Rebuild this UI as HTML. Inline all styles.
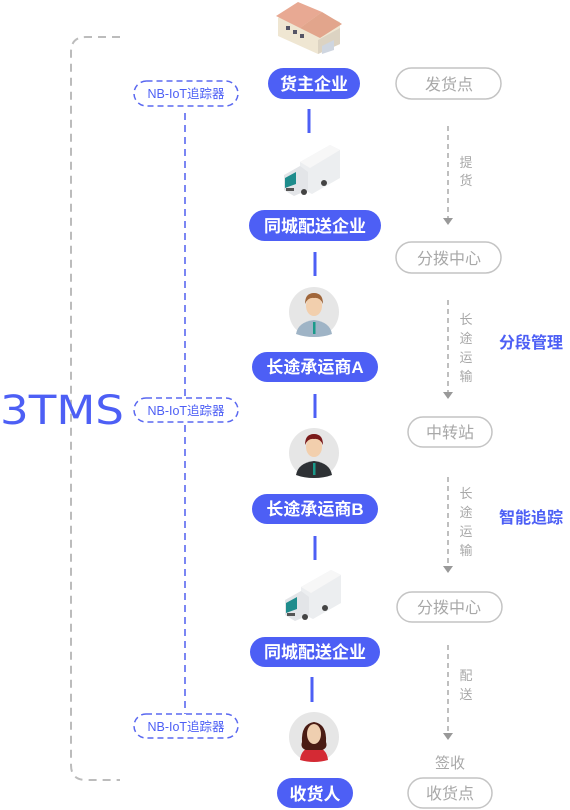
<!DOCTYPE html>
<html><head><meta charset="utf-8"><style>
html,body{margin:0;padding:0;background:#fff;}
svg{display:block;font-family:"Liberation Sans","Noto Sans CJK SC",sans-serif;}
</style></head><body>
<svg width="570" height="810" viewBox="0 0 570 810" xmlns="http://www.w3.org/2000/svg">
<path d="M120 37 H86 Q71 37 71 52 V765 Q71 780 86 780 H120" fill="none" stroke="#bcbcbc" stroke-width="2" stroke-dasharray="8 6"/>
<line x1="185" y1="113" x2="185" y2="714" stroke="#5a68f0" stroke-width="1.6" stroke-dasharray="7 5"/>
<text x="0" y="424" font-size="40" fill="#4d5ff5" textLength="124" lengthAdjust="spacingAndGlyphs" font-family="DejaVu Sans,Liberation Sans,sans-serif">3TMS</text>
<g font-size="12.5" fill="#4d5ff5" text-anchor="middle">
<rect x="134" y="81" width="104" height="25" rx="12.5" fill="#fff" stroke="#5a68f0" stroke-width="1.5" stroke-dasharray="6 4"/>
<text x="186" y="98">NB-IoT追踪器</text>
<rect x="134" y="398" width="104" height="24" rx="12" fill="#fff" stroke="#5a68f0" stroke-width="1.5" stroke-dasharray="6 4"/>
<text x="186" y="415">NB-IoT追踪器</text>
<rect x="134" y="714" width="104" height="24" rx="12" fill="#fff" stroke="#5a68f0" stroke-width="1.5" stroke-dasharray="6 4"/>
<text x="186" y="731">NB-IoT追踪器</text>
</g>
<g stroke="#4d5ff5" stroke-width="3">
<line x1="309" y1="109" x2="309" y2="133"/>
<line x1="315" y1="252" x2="315" y2="276"/>
<line x1="315" y1="394" x2="315" y2="418"/>
<line x1="315" y1="536" x2="315" y2="560"/>
<line x1="312" y1="677" x2="312" y2="702"/>
</g>
<g fill="#4d5ff5">
<rect x="268" y="68" width="92" height="31" rx="15.5"/>
<rect x="249" y="210" width="132" height="31" rx="15.5"/>
<rect x="252" y="352" width="126" height="30" rx="15"/>
<rect x="252" y="494" width="126" height="30" rx="15"/>
<rect x="250" y="637" width="130" height="30" rx="15"/>
<rect x="277" y="778" width="76" height="30" rx="15"/>
</g>
<g fill="#fff" font-size="17" text-anchor="middle" font-weight="bold">
<text x="314" y="90">货主企业</text>
<text x="315" y="232">同城配送企业</text>
<text x="315" y="373">长途承运商A</text>
<text x="315" y="515">长途承运商B</text>
<text x="315" y="658">同城配送企业</text>
<text x="315" y="800">收货人</text>
</g>
<g>
<polygon points="278,18 300,4 340,22 340,44 318,54 278,36" fill="#efe6d2"/>
<polygon points="276,16 298,2 322,12 300,28" fill="#e8a993"/>
<polygon points="300,28 322,12 342,24 320,38" fill="#e2a58c"/>
<polygon points="318,40 340,28 340,44 318,54" fill="#dcd3c2"/>
<rect x="286" y="26" width="4" height="4" fill="#556"/><rect x="293" y="30" width="4" height="4" fill="#556"/><rect x="300" y="34" width="4" height="4" fill="#556"/>
<polygon points="322,46 334,40 334,50 322,54" fill="#cfd6e0"/>
</g>
<g id="truck">
<polygon points="300,162 330,145 340,150 340,178 312,194 300,188" fill="#eceef0"/>
<polygon points="300,162 330,145 340,150 310,168" fill="#f7f7f7"/>
<polygon points="284,175 300,166 308,172 308,190 294,196 284,190" fill="#e3e5e8"/>
<polygon points="285,178 296,172 296,184 285,188" fill="#1e8c8c"/>
<rect x="286" y="188" width="8" height="3" fill="#555"/>
<circle cx="304" cy="192" r="3" fill="#444"/><circle cx="324" cy="183" r="3" fill="#444"/>
</g>
<use href="#truck" transform="translate(1,425)"/>
<g>
<circle cx="314" cy="312" r="25" fill="#e6e6e6"/>
<path d="M296 334 Q298 322 314 320 Q330 322 332 334 Q324 337 314 337 Q304 337 296 334Z" fill="#9fb4c6"/>
<rect x="313" y="322" width="2.5" height="12" fill="#1a9a8a"/>
<ellipse cx="314" cy="306" rx="8" ry="10" fill="#f2cfad"/>
<path d="M305 304 Q305 293 314 293 Q323 293 323 304 Q320 297 314 298 Q308 297 305 304Z" fill="#a0663a"/>
</g>
<g>
<circle cx="314" cy="453" r="25" fill="#e6e6e6"/>
<path d="M296 475 Q298 463 314 461 Q330 463 332 475 Q324 478 314 478 Q304 478 296 475Z" fill="#2e3135"/>
<rect x="313" y="463" width="2.5" height="12" fill="#1a9a8a"/>
<ellipse cx="314" cy="447" rx="8" ry="10" fill="#f2cfad"/>
<path d="M305 445 Q305 434 314 434 Q323 434 323 445 Q320 438 314 439 Q308 438 305 445Z" fill="#7a1a1a"/>
<path d="M306 450 Q314 462 322 450 Q318 456 314 456 Q310 456 306 450Z" fill="#7a1a1a"/>
</g>
<g>
<circle cx="314" cy="737" r="25" fill="#e6e6e6"/>
<path d="M300 760 Q301 748 314 746 Q327 748 328 760 Q321 762 314 762 Q307 762 300 760Z" fill="#d42a34"/>
<path d="M302 742 Q301 724 314 722 Q327 724 326 742 Q328 748 322 750 L306 750 Q300 748 302 742Z" fill="#4a1c14"/>
<ellipse cx="314" cy="734" rx="7" ry="10" fill="#efcfb0"/>
</g>
<g fill="#fff" stroke="#c4c4c4" stroke-width="1.5">
<rect x="396" y="68" width="105" height="31" rx="15.5"/>
<rect x="396" y="242" width="105" height="31" rx="15.5"/>
<rect x="408" y="417" width="84" height="30" rx="15"/>
<rect x="397" y="592" width="105" height="30" rx="15"/>
<rect x="408" y="778" width="84" height="30" rx="15"/>
</g>
<g fill="#a8a8a8" font-size="16" text-anchor="middle">
<text x="449" y="90">发货点</text>
<text x="449" y="264">分拨中心</text>
<text x="450" y="438">中转站</text>
<text x="449" y="613">分拨中心</text>
<text x="450" y="799">收货点</text>
<text x="450" y="768" font-size="15">签收</text>
</g>
<g stroke="#aaa" stroke-width="1.5" stroke-dasharray="5 4">
<line x1="448" y1="126" x2="448" y2="218"/>
<line x1="448" y1="300" x2="448" y2="393"/>
<line x1="448" y1="477" x2="448" y2="568"/>
<line x1="448" y1="645" x2="448" y2="733"/>
</g>
<g fill="#999">
<polygon points="443,218 453,218 448,225"/>
<polygon points="443,392 453,392 448,399"/>
<polygon points="443,566 453,566 448,573"/>
<polygon points="443,733 453,733 448,740"/>
</g>
<g fill="#a8a8a8" font-size="13" text-anchor="middle">
<text x="466" y="167">提</text><text x="466" y="185">货</text>
<text x="466" y="324">长</text><text x="466" y="343">途</text><text x="466" y="362">运</text><text x="466" y="381">输</text>
<text x="466" y="498">长</text><text x="466" y="517">途</text><text x="466" y="536">运</text><text x="466" y="555">输</text>
<text x="466" y="680">配</text><text x="466" y="699">送</text>
</g>
<g fill="#4d5ff5" font-size="16" font-weight="bold">
<text x="499" y="348">分段管理</text>
<text x="499" y="523">智能追踪</text>
</g>
</svg>
</body></html>
